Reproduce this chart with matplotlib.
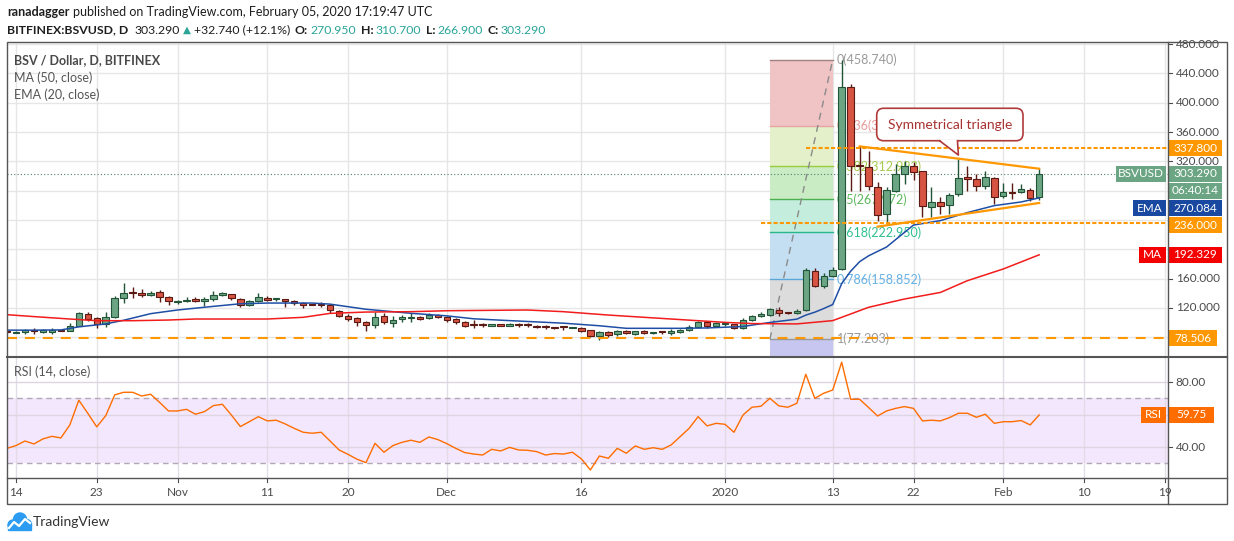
import numpy as np
import pandas as pd
import matplotlib
matplotlib.use("Agg")
import matplotlib.pyplot as plt
from matplotlib.patches import Rectangle, FancyBboxPatch, Polygon, Circle
from matplotlib.lines import Line2D
from matplotlib.transforms import IdentityTransform

plt.rcParams['font.family'] = ['Lato', 'DejaVu Sans']

W, H = 1234, 541
PX = IdentityTransform()

# ---------------- values ----------------
first_day = "2019-10-13"
last_day = "2020-02-05"
origin = pd.Timestamp("2019-10-14")

opens = [87, 86, 86.5, 89, 86.5, 87.4, 89, 88.8, 95.6, 111.5,
         105.6, 97.9, 107, 133.3, 140.5, 140.2, 137.4, 141.5, 134.2, 127.4,
         128.8, 132, 128.8, 131.5, 137.9, 138.8, 132, 123.8, 128.8, 133.3,
         131.5, 132, 128.8, 126.5, 124.5, 124.4, 123.8, 115.1, 109.2, 105.6,
         101, 96.5, 109.2, 99.2, 104.7, 106.5, 107.9, 106, 109.7, 107.9,
         104.7, 101, 96.5, 96.5, 95.1, 97.4, 95.1, 98.3, 96.2, 95.6,
         95.6, 93, 93.3, 92.6, 91.9, 89.7, 81, 86.5, 84.2, 88.8,
         84.2, 88.8, 85.6, 87, 85.6, 86.5, 89.7, 93.3, 100.1, 94.7,
         97.4, 97.4, 92, 103.3, 109.2, 110.1, 117, 113, 112.5, 117,
         169.8, 150.2, 164, 172.9, 421.9, 314.5, 312.6, 285.4, 248, 279.9,
         302.6, 314, 306.3, 257.2, 263.9, 260.8, 275.4, 299, 295.8, 286.7,
         297.2, 272.2, 277.8, 277.6, 280.8, 270.95]
highs = [88, 88, 91, 92, 90.5, 92.4, 89.5, 98.8, 114.7, 114.7,
         107.9, 113.8, 136.5, 153.8, 147.9, 145.6, 143.3, 144.3, 136.5, 130.6,
         134.2, 134.2, 134.2, 143.3, 142, 139.5, 133.3, 130.5, 139.7, 136.5,
         133.3, 132.5, 130.6, 127.4, 124.8, 127.4, 125.2, 117, 111.5, 107.9,
         102.4, 113.8, 112.4, 109.2, 110.6, 112.4, 108.5, 112.4, 111, 109.2,
         105.6, 102, 103.3, 98.8, 98.5, 98.5, 98.8, 98.8, 98.8, 96,
         96.5, 94.2, 94.2, 93.6, 93.3, 90, 88, 87.8, 90, 90.1,
         89, 90.1, 87.4, 88.8, 91, 91.5, 97, 102, 101, 100.1,
         100.1, 97.9, 105.6, 110.1, 114.7, 119.5, 120.6, 114, 118.4, 174.5,
         174.5, 167, 175.3, 458.74, 425.5, 340.4, 334.5, 292, 285, 316.3,
         320.9, 318.6, 307.2, 284.5, 270.8, 276.3, 323.1, 314, 302.6, 306.3,
         298.1, 289.9, 289.9, 289, 283.5, 310.7]
lows = [85, 85, 84.2, 84, 86, 84.2, 88, 88.5, 94.6, 102.4,
        92.4, 93.3, 105.6, 126.1, 133.3, 134.2, 136.5, 127.4, 123.8, 125.2,
        127.4, 127.4, 122.9, 129.7, 136.5, 130.6, 120.6, 123, 127.4, 128.8,
        129.7, 121.5, 123.8, 119.7, 124, 120.6, 112.4, 107.9, 102.4, 95.6,
        87.8, 92.4, 97.9, 94.2, 100.1, 100.1, 103, 104.5, 105.5, 100.1,
        97.9, 94, 91.9, 93.3, 94.5, 94.5, 94.5, 93.3, 94.2, 93,
        91, 91, 90.1, 92, 86.5, 80.5, 76, 80.6, 82, 84.2,
        83.3, 84, 84.7, 84.2, 83.3, 85.6, 88.8, 92.4, 92.4, 93.3,
        94.7, 91, 91, 102.4, 107.9, 109, 109.3, 111, 111.5, 116,
        148, 147, 161.6, 171, 280, 280, 280.8, 238, 234.4, 277.6,
        289, 294.5, 243.5, 243.5, 248, 248, 273.1, 279.9, 279.9, 282.2,
        261.7, 269.4, 268.5, 276.3, 266.3, 266.9]
closes = [86.5, 87, 89.6, 88.5, 89.6, 89.6, 88.5, 95.6, 112.9, 104.7,
          97.9, 107.9, 133.3, 140.2, 140, 137.4, 140.2, 135.2, 128.8, 129.7,
          130.6, 128.8, 132, 137.4, 140.2, 133.3, 123.8, 129.7, 134.2, 130.6,
          132, 128.8, 126.1, 123.8, 124.2, 124, 117, 109.2, 104.7, 100.1,
          96.5, 107.9, 100.1, 103.3, 107.9, 107.5, 104.7, 110.1, 107, 103.8,
          100.1, 94.7, 96.2, 96.3, 97.9, 95.1, 97.9, 96, 96, 93.3,
          93.3, 92.8, 93.2, 93, 87.8, 81, 87.4, 83.3, 88.8, 85.6,
          87.8, 85.6, 86.5, 86.8, 87.8, 90.1, 94.2, 101, 94.7, 98.8,
          97.9, 92, 103.3, 109.2, 111.5, 118.3, 112.5, 112.9, 116.1, 172.1,
          150.2, 163, 171.6, 421.9, 314, 313, 285.8, 247.1, 280.8, 302.6,
          314, 304.9, 258.5, 264.9, 259.5, 274.4, 297.2, 295.4, 286.7, 298.1,
          271.7, 277.6, 277.4, 282.2, 269.9, 303.29]

# EMA(20) / MA(50) read at these days (days since Oct 14, 2019)
ema_days = [-1, 2, 5, 7, 10, 12, 15, 18, 22, 25, 28, 33, 35, 39, 44, 48, 51, 55, 61, 65,
            68, 74, 77, 81, 84, 87, 88, 89, 90, 91, 92, 93, 94, 95, 97, 100, 103, 106, 109, 112, 114]
ema_vals = [89.5, 89.5, 89.8, 94, 98, 103, 112, 117, 122, 125.5, 126.5, 126.5, 125, 118, 112.5,
            109, 105, 102.5, 99, 95.5, 92, 92, 92.5, 94.5, 100, 104.5, 110, 114, 119, 124.5,
            153, 170, 183, 191, 203, 233, 239, 250, 259.5, 264.5, 270.084]
ma_days = [-1, 2, 6, 9, 13, 17, 20, 28, 32, 35, 39, 44, 48, 57, 61, 66, 73, 79, 82, 87,
           91, 92, 95, 99, 103, 106, 110, 114]
ma_vals = [110.6, 108, 104.7, 102.4, 102.4, 103.3, 104.7, 104.7, 107, 112.4, 114.2, 114.7,
           116, 117, 114.7, 110.1, 104.7, 100.1, 98.5, 98, 102.5, 107, 120.7, 132, 141, 157,
           173, 192.329]

# RSI(14), one value per candle
rsi_vals = [39.2, 40.9, 43.7, 41.9, 45, 46.6, 45.6, 53.6, 68.8, 60.8,
            52.4, 59.3, 72.1, 73.7, 73.7, 71.4, 72.5, 67.5, 62.2, 62.2,
            63.2, 60.2, 61.8, 65.5, 66.3, 59.7, 52.6, 55.6, 58.7, 56.1,
            56.5, 54.2, 51.5, 49.1, 48.5, 49.1, 43.7, 38.2, 35.5, 32.5,
            30.4, 42.3, 36.8, 40.9, 42.9, 44.2, 42.9, 46.2, 44.6, 42.1,
            39.2, 36.6, 35.7, 35.1, 38.6, 37.6, 39.8, 38.2, 38, 37.2,
            35.1, 36, 35.7, 36.8, 32.7, 25.9, 34.5, 33.1, 39.2, 36.2,
            40.7, 38.6, 39.6, 38.6, 41.3, 46.4, 51.5, 58.7, 53, 54.6,
            54, 49.1, 59.7, 64.5, 65.1, 70, 65.3, 64.5, 66.9, 84.8,
            70, 73.1, 75.1, 92.2, 69.4, 69.4, 64.3, 59.1, 62.2, 63.8,
            64.9, 63.8, 56.1, 56.5, 56.1, 58.1, 60.8, 60.8, 58.3, 60.2,
            54.6, 55.6, 55.6, 56.3, 53.6, 59.75]

price_ticks = [80, 120, 160, 200, 240, 280, 320, 360, 400, 440, 480]
price_labels = [120, 160, 320, 360, 400, 440, 480]   # the others sit under the tags
rsi_grid = [40, 60, 80]
rsi_labels = [80, 40]
tick_dates = ["2019-10-14", "2019-10-23", "2019-11-01", "2019-11-11", "2019-11-20",
              "2019-12-01", "2019-12-16", "2020-01-01", "2020-01-13", "2020-01-22",
              "2020-02-01", "2020-02-10", "2020-02-19"]
tick_labels = ["14", "23", "Nov", "11", "20", "Dec", "16", "2020", "13", "22", "Feb", "10", "19"]

fib_ratios = ["0", "0.236", "0.382", "0.5", "0.618", "0.786", "1"]
fib_prices = [458.740, 368.697, 312.993, 267.972, 222.950, 158.852, 77.203]
fib_from, fib_to = "2020-01-06", "2020-01-13"

levels = [337.800, 236.000, 78.506]
level_from = ["2020-01-10", "2020-01-05", "2019-10-13"]

tri_upper_dates = ["2020-01-16", "2020-02-05"]
tri_upper_vals = [340.4, 309.9]
tri_lower_dates = ["2020-01-18", "2020-02-05"]
tri_lower_vals = [230.8, 263.1]

last_close, last_ema, last_ma, last_rsi = 303.290, 270.084, 192.329, 59.75

# ---------------- styling ----------------
GREEN, GREEN_E = "#6ba583", "#225437"
RED, RED_E = "#d75442", "#5b1a13"
GRID = "#e6e6e6"
TXT = "#4a4a4a"
ORANGE = "#ff9800"
EMA_C = "#1f4fa5"
MA_C = "#f21c1c"
RSI_C = "#ff6d00"
TEAL = "#2aa598"
zone_colors = ["#f0c4c4", "#e4f0c9", "#c9ecc5", "#c4eddd", "#c4dff1", "#dcdcdc"]
fib_line_colors = ["#a08080", "#e8a4a4", "#9ccc3c", "#4caf50", "#26b88a", "#5aa7d8", "#999999"]
fib_text_colors = ["#9a9a9a", "#e89a9a", "#a8cc50", "#5cb85c", "#2ec08f", "#64b0e6", "#9a9a9a"]


def dn(s):
    return (pd.Timestamp(s) - origin).days


days = np.array([dn(d) for d in pd.date_range(first_day, last_day, freq="D")])
o, h, l, c = map(np.array, (opens, highs, lows, closes))

fig = plt.figure(figsize=(W / 100, H / 100), dpi=100)


def axes_px(x0, y0, x1, y1):
    a = fig.add_axes([x0 / W, 1 - y1 / H, (x1 - x0) / W, (y1 - y0) / H])
    a.set_xticks([])
    a.set_yticks([])
    for s in a.spines.values():
        s.set_visible(False)
    a.patch.set_alpha(0)
    return a


XL = (-1.0, 128.3)
ax = axes_px(7, 42.5, 1167.5, 356)
ax.set_xlim(*XL)
ax.set_ylim(54.2, 482.2)
ax_p = axes_px(1167.5, 42.5, 1227, 356)
ax_p.set_ylim(54.2, 482.2)
ax_p.set_xlim(0, 1)
ax_r = axes_px(7, 357.5, 1167.5, 478)
ax_r.set_xlim(*XL)
ax_r.set_ylim(20.95, 95.1)
ax_rp = axes_px(1167.5, 357.5, 1227, 478)
ax_rp.set_ylim(20.95, 95.1)
ax_rp.set_xlim(0, 1)
ax_t = axes_px(7, 478, 1167.5, 504)
ax_t.set_xlim(*XL)
ax_t.set_ylim(0, 1)

tick_days = [dn(t) for t in tick_dates]

# ---------------- main pane ----------------
for p in price_ticks:
    ax.axhline(p, color=GRID, lw=1, zorder=0)
for t in tick_days:
    ax.axvline(t, color=GRID, lw=1, zorder=0)
    ax_r.axvline(t, color="#e2dce6", lw=1, zorder=1)

# fibonacci retracement
fx0, fx1 = dn(fib_from), dn(fib_to)
for i in range(len(fib_prices) - 1):
    ax.fill_between([fx0, fx1], fib_prices[i + 1], fib_prices[i], color=zone_colors[i], lw=0, zorder=1)
ax.fill_between([fx0, fx1], ax.get_ylim()[0], fib_prices[-1], color="#c6c6f0", lw=0, zorder=1)
for p, lc, tc, r in zip(fib_prices, fib_line_colors, fib_text_colors, fib_ratios):
    ax.plot([fx0, fx1], [p, p], color=lc, lw=1, zorder=1.5)
    ax.text(fx1 + 0.45, p, f"{r}({p:.3f})", color=tc, fontsize=9, va="center", ha="left", zorder=2)
ax.plot([fx0, fx1], [fib_prices[-1], fib_prices[0]], color="#8a8a8a", lw=1, dashes=(5, 4), zorder=2)

# current price dotted line
ax.axhline(last_close, color="#4f7f67", lw=0.8, ls=(0, (1, 2)), zorder=2)

# candles
up = c >= o
fill = np.where(up, GREEN, RED)
edge = np.where(up, GREEN_E, RED_E)
ax.vlines(days, l, h, colors=edge, lw=1, zorder=3)
ax.bar(days, np.maximum(np.abs(c - o), 1.3), bottom=np.minimum(o, c), width=0.72,
       color=fill, edgecolor=edge, linewidth=0.8, zorder=4)

# moving averages
ax.plot(ema_days, ema_vals, color=EMA_C, lw=1.1, zorder=5)
ax.plot(ma_days, ma_vals, color=MA_C, lw=1.1, zorder=5)

# horizontal levels
ax.plot([dn(level_from[0]), XL[1]], [levels[0]] * 2, color=ORANGE, lw=1.5, dashes=(2, 1), zorder=6)
ax.plot([dn(level_from[1]), XL[1]], [levels[1]] * 2, color=ORANGE, lw=1.5, dashes=(2, 1), zorder=6)
ax.plot([XL[0], XL[1]], [levels[2]] * 2, color=ORANGE, lw=1.5, dashes=(4.8, 3.8), zorder=6)

# triangle
ax.plot([dn(d) for d in tri_upper_dates], tri_upper_vals, color=ORANGE, lw=1.6, zorder=6)
ax.plot([dn(d) for d in tri_lower_dates], tri_lower_vals, color=ORANGE, lw=1.6, zorder=6)


def to_px(a, x, y):
    X, Y = a.transData.transform((x, y))
    return X, H - Y


# callout "Symmetrical triangle"
bx0, by0 = to_px(ax, 95.9, 392.4)
bx1, by1 = to_px(ax, 112.2, 348.1)
tipx, tipy = to_px(ax, 105.0, 328.6)
p0x, _ = to_px(ax, 102.9, 348.1)
p1x, _ = to_px(ax, 104.9, 348.1)
CAL = "#b03a3a"
fig.add_artist(FancyBboxPatch((bx0, H - by1), bx1 - bx0, by1 - by0,
                              boxstyle="round,pad=0,rounding_size=7", transform=PX,
                              facecolor="white", edgecolor=CAL, lw=1.2, zorder=20))
fig.add_artist(Polygon([(p0x, H - by1 + 1.2), (tipx, H - tipy), (p1x, H - by1 + 1.2)],
                       closed=True, transform=PX, facecolor="white", edgecolor="none", zorder=21))
fig.add_artist(Line2D([p0x, tipx, p1x], [H - by1, H - tipy, H - by1], transform=PX,
                      color=CAL, lw=1.2, zorder=22))
fig.text((bx0 + bx1) / 2 / W, 1 - (by0 + by1) / 2 / H, "Symmetrical triangle",
         color="#a83232", fontsize=10, ha="center", va="center", zorder=23)

# ---------------- price scale ----------------
for p in price_ticks:
    ax_p.plot([0, 0.07], [p, p], color=TXT, lw=0.8)
for p in price_labels:
    ax_p.text(0.14, p, f"{p:.3f}", fontsize=8.5, color=TXT, va="center", ha="left")


def box(x0, x1, yc, color, text, hgt=16, fs=8.5):
    fig.add_artist(Rectangle((x0, H - yc - hgt / 2), x1 - x0, hgt, transform=PX,
                             facecolor=color, edgecolor="none", zorder=30))
    fig.text((x0 + x1) / 2 / W, 1 - yc / H, text, ha="center", va="center",
             color="white", fontsize=fs, zorder=31)


def y_px(a, v):
    return H - a.transData.transform((0, v))[1]


box(1168, 1222, y_px(ax, levels[0]), ORANGE, f"{levels[0]:.3f}")
yc = y_px(ax, last_close)
box(1116, 1166, yc, GREEN, "BSVUSD")
box(1168, 1222, yc, GREEN, f"{last_close:.3f}")
box(1168, 1222, yc + 17, GREEN, "06:40:14")
ye = y_px(ax, last_ema) + 10.5
box(1133, 1166, ye, "#1848a0", "EMA")
box(1168, 1222, ye, "#1848a0", f"{last_ema:.3f}")
box(1168, 1222, y_px(ax, levels[1]) + 2.2, ORANGE, f"{levels[1]:.3f}")
ym = y_px(ax, last_ma)
box(1139, 1166, ym, "#f40000", "MA")
box(1168, 1222, ym, "#f40000", f"{last_ma:.3f}")
box(1168, 1217, y_px(ax, levels[2]), ORANGE, f"{levels[2]:.3f}")

# ---------------- RSI pane ----------------
ax_r.axhspan(30, 70, color="#f3e7fd", lw=0, zorder=0)
for g in rsi_grid:
    ax_r.axhline(g, color="#ddd6e2", lw=1, zorder=1)
for g in (30, 70):
    ax_r.axhline(g, color="#b0a8b5", lw=1, dashes=(4, 3), zorder=2)
ax_r.plot(days, rsi_vals, color=RSI_C, lw=1, zorder=3)
for g in rsi_labels:
    ax_rp.plot([0, 0.07], [g, g], color=TXT, lw=0.8)
    ax_rp.text(0.14, g, f"{g:.2f}", fontsize=8.5, color=TXT, va="center", ha="left")
yr = y_px(ax_r, last_rsi)
box(1141, 1166, yr, RSI_C, "RSI")
box(1168, 1214, yr, RSI_C, f"{last_rsi:.2f}")

# ---------------- time axis ----------------
for t, lab in zip(tick_days, tick_labels):
    ax_t.plot([t, t], [1, 0.85], color=TXT, lw=0.8)
    ax_t.text(t, 0.45, lab, fontsize=8.5, color=TXT, ha="center", va="center")

# ---------------- frame ----------------
FR = "#555555"
fig.add_artist(Rectangle((7, H - 504), 1220, 462, transform=PX, facecolor="none",
                         edgecolor=FR, lw=1, zorder=40))
for yy, lw in ((356.5, 1.5), (478, 1)):
    fig.add_artist(Line2D([7, 1227], [H - yy, H - yy], transform=PX, color=FR, lw=lw, zorder=40))
fig.add_artist(Line2D([1167.5, 1167.5], [H - 42, H - 504], transform=PX, color=FR, lw=1, zorder=40))

# ---------------- texts ----------------
HD = "#1e1e1e"
rend = fig.canvas.get_renderer()


def seg_text(x, y, parts):
    # pieces of one header line, each (text, colour, weight, size, gap after)
    for s, col, wt, fs, gap in parts:
        t = fig.text(x / W, 1 - y / H, s, fontsize=fs, color=col, fontweight=wt, va="center")
        x += t.get_window_extent(renderer=rend).width + gap


seg_text(7, 12, [("ranadagger", HD, "bold", 9, 3.5),
                 ("published on TradingView.com, February 05, 2020 17:19:47 UTC", HD, "normal", 9, 0)])
seg_text(7, 30, [("BITFINEX:BSVUSD, D", HD, "bold", 8.8, 6),
                 ("303.290", HD, "normal", 8.8, 3),
                 ("\u25b2", TEAL, "normal", 7.5, 3),
                 ("+32.740 (+12.1%)", HD, "normal", 8.8, 5),
                 ("O:", HD, "bold", 8.8, 2), ("270.950", TEAL, "normal", 8.8, 5),
                 ("H:", HD, "bold", 8.8, 2), ("310.700", TEAL, "normal", 8.8, 5),
                 ("L:", HD, "bold", 8.8, 2), ("266.900", TEAL, "normal", 8.8, 5),
                 ("C:", HD, "bold", 8.8, 2), ("303.290", TEAL, "normal", 8.8, 0)])

fig.text(14 / W, 1 - 60 / H, "BSV / Dollar, D, BITFINEX", fontsize=9, color="#4a4a4a",
         fontweight="bold", va="center")
fig.text(14 / W, 1 - 78 / H, "MA (50, close)", fontsize=9, color="#555555", va="center")
fig.text(14 / W, 1 - 95 / H, "EMA (20, close)", fontsize=9, color="#555555", va="center")
fig.text(14 / W, 1 - 372 / H, "RSI (14, close)", fontsize=9, color="#555555", va="center")

# TradingView logo
LOGO = "#2b9cf2"
for cx, cy, rr in ((13, 525, 5), (20, 519.5, 6.5), (26.5, 524.5, 5)):
    fig.add_artist(Circle((cx, H - cy), rr, transform=PX, color=LOGO, zorder=5))
fig.add_artist(Rectangle((8, H - 530), 23, 6, transform=PX, color=LOGO, zorder=5))
fig.add_artist(Line2D([9, 14, 19, 25, 30], [H - 528, H - 522, H - 526, H - 519, H - 523],
                      transform=PX, color="white", lw=1.6, zorder=6))
fig.text(33 / W, 1 - 522 / H, "TradingView", fontsize=10, color="#333333", va="center")

fig.savefig("out.png", dpi=100)
